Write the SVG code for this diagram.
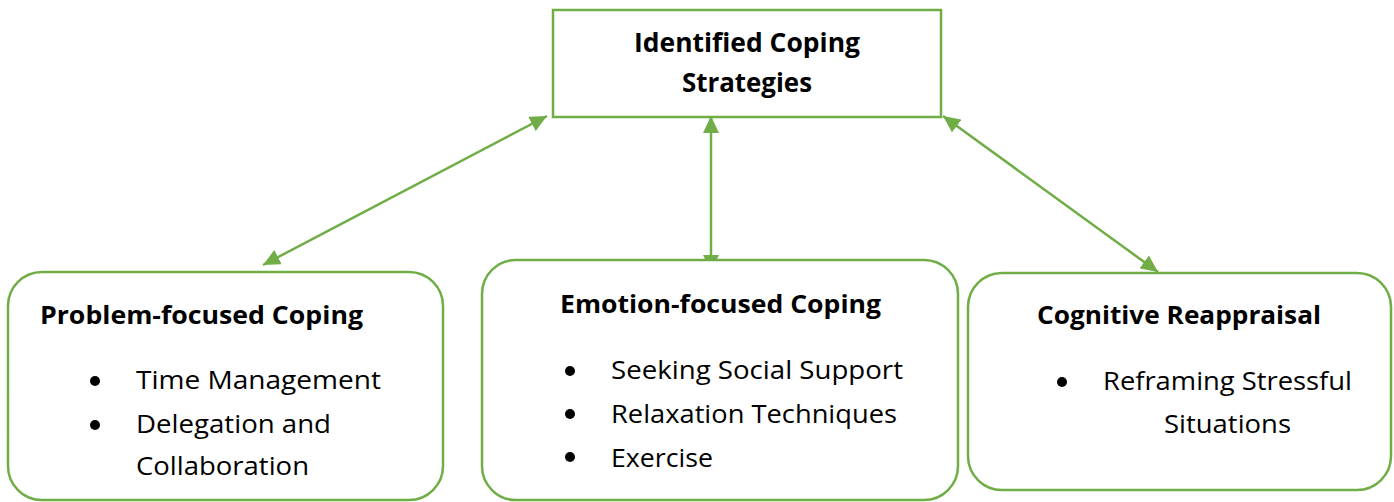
<svg xmlns="http://www.w3.org/2000/svg" width="1394" height="502" viewBox="0 0 1394 502">
  <style>
    .box { fill: #ffffff; stroke: #70ad47; stroke-width: 2.5; }
    .link { stroke: #70ad47; stroke-width: 2.5; fill: none; }
    .head { font-family: "Open Sans", "Liberation Sans", sans-serif; font-weight: bold; font-size: 25px; fill: #000; }
    .title { font-family: "Open Sans", "Liberation Sans", sans-serif; font-weight: bold; font-size: 27px; fill: #000; }
    .item { font-family: "Open Sans", "Liberation Sans", sans-serif; font-size: 25px; fill: #000; }
    .dot { fill: #000; }
  </style>
  <defs>
    <marker id="arrow" markerUnits="userSpaceOnUse" markerWidth="17" markerHeight="16" refX="17" refY="8" orient="auto-start-reverse">
      <path d="M0,0 L17,8 L0,16 Z" fill="#70ad47"/>
    </marker>
  </defs>
  <rect width="1394" height="502" fill="#ffffff"/>

  <!-- connectors -->
  <g id="connectors">
    <line class="link" x1="547" y1="116" x2="263" y2="265" marker-start="url(#arrow)" marker-end="url(#arrow)"/>
    <line class="link" x1="711" y1="116" x2="711" y2="272" marker-start="url(#arrow)" marker-end="url(#arrow)"/>
    <line class="link" x1="943" y1="116" x2="1158" y2="272" marker-start="url(#arrow)" marker-end="url(#arrow)"/>
  </g>

  <!-- central node -->
  <g id="identified-coping-strategies">
    <rect class="box" x="553" y="10" width="388" height="107"/>
    <text class="title" x="634" y="52" textLength="226" lengthAdjust="spacingAndGlyphs">Identified Coping</text>
    <text class="title" x="682" y="92" textLength="130" lengthAdjust="spacingAndGlyphs">Strategies</text>
  </g>

  <!-- problem-focused -->
  <g id="problem-focused-coping">
    <rect class="box" x="8" y="272" width="435" height="228" rx="34" ry="34"/>
    <text class="head" x="40" y="324" textLength="323" lengthAdjust="spacingAndGlyphs">Problem-focused Coping</text>
    <circle class="dot" cx="95" cy="381" r="5"/>
    <text class="item" x="136" y="389" textLength="245" lengthAdjust="spacingAndGlyphs">Time Management</text>
    <circle class="dot" cx="95" cy="425" r="5"/>
    <text class="item" x="136" y="433" textLength="195" lengthAdjust="spacingAndGlyphs">Delegation and</text>
    <text class="item" x="136" y="475" textLength="173" lengthAdjust="spacingAndGlyphs">Collaboration</text>
  </g>

  <!-- emotion-focused -->
  <g id="emotion-focused-coping">
    <rect class="box" x="482" y="260" width="476" height="240" rx="34" ry="34"/>
    <text class="head" x="560" y="313" textLength="321" lengthAdjust="spacingAndGlyphs">Emotion-focused Coping</text>
    <circle class="dot" cx="570" cy="371" r="5"/>
    <text class="item" x="611" y="379" textLength="292" lengthAdjust="spacingAndGlyphs">Seeking Social Support</text>
    <circle class="dot" cx="570" cy="414" r="5"/>
    <text class="item" x="611" y="423" textLength="286" lengthAdjust="spacingAndGlyphs">Relaxation Techniques</text>
    <circle class="dot" cx="570" cy="457" r="5"/>
    <text class="item" x="611" y="467" textLength="102" lengthAdjust="spacingAndGlyphs">Exercise</text>
  </g>

  <!-- cognitive reappraisal -->
  <g id="cognitive-reappraisal">
    <rect class="box" x="968" y="273" width="423" height="217" rx="34" ry="34"/>
    <text class="head" x="1037" y="324" textLength="284" lengthAdjust="spacingAndGlyphs">Cognitive Reappraisal</text>
    <circle class="dot" cx="1062" cy="382" r="5"/>
    <text class="item" x="1103" y="390" textLength="249" lengthAdjust="spacingAndGlyphs">Reframing Stressful</text>
    <text class="item" x="1164" y="433" textLength="127" lengthAdjust="spacingAndGlyphs">Situations</text>
  </g>
</svg>
